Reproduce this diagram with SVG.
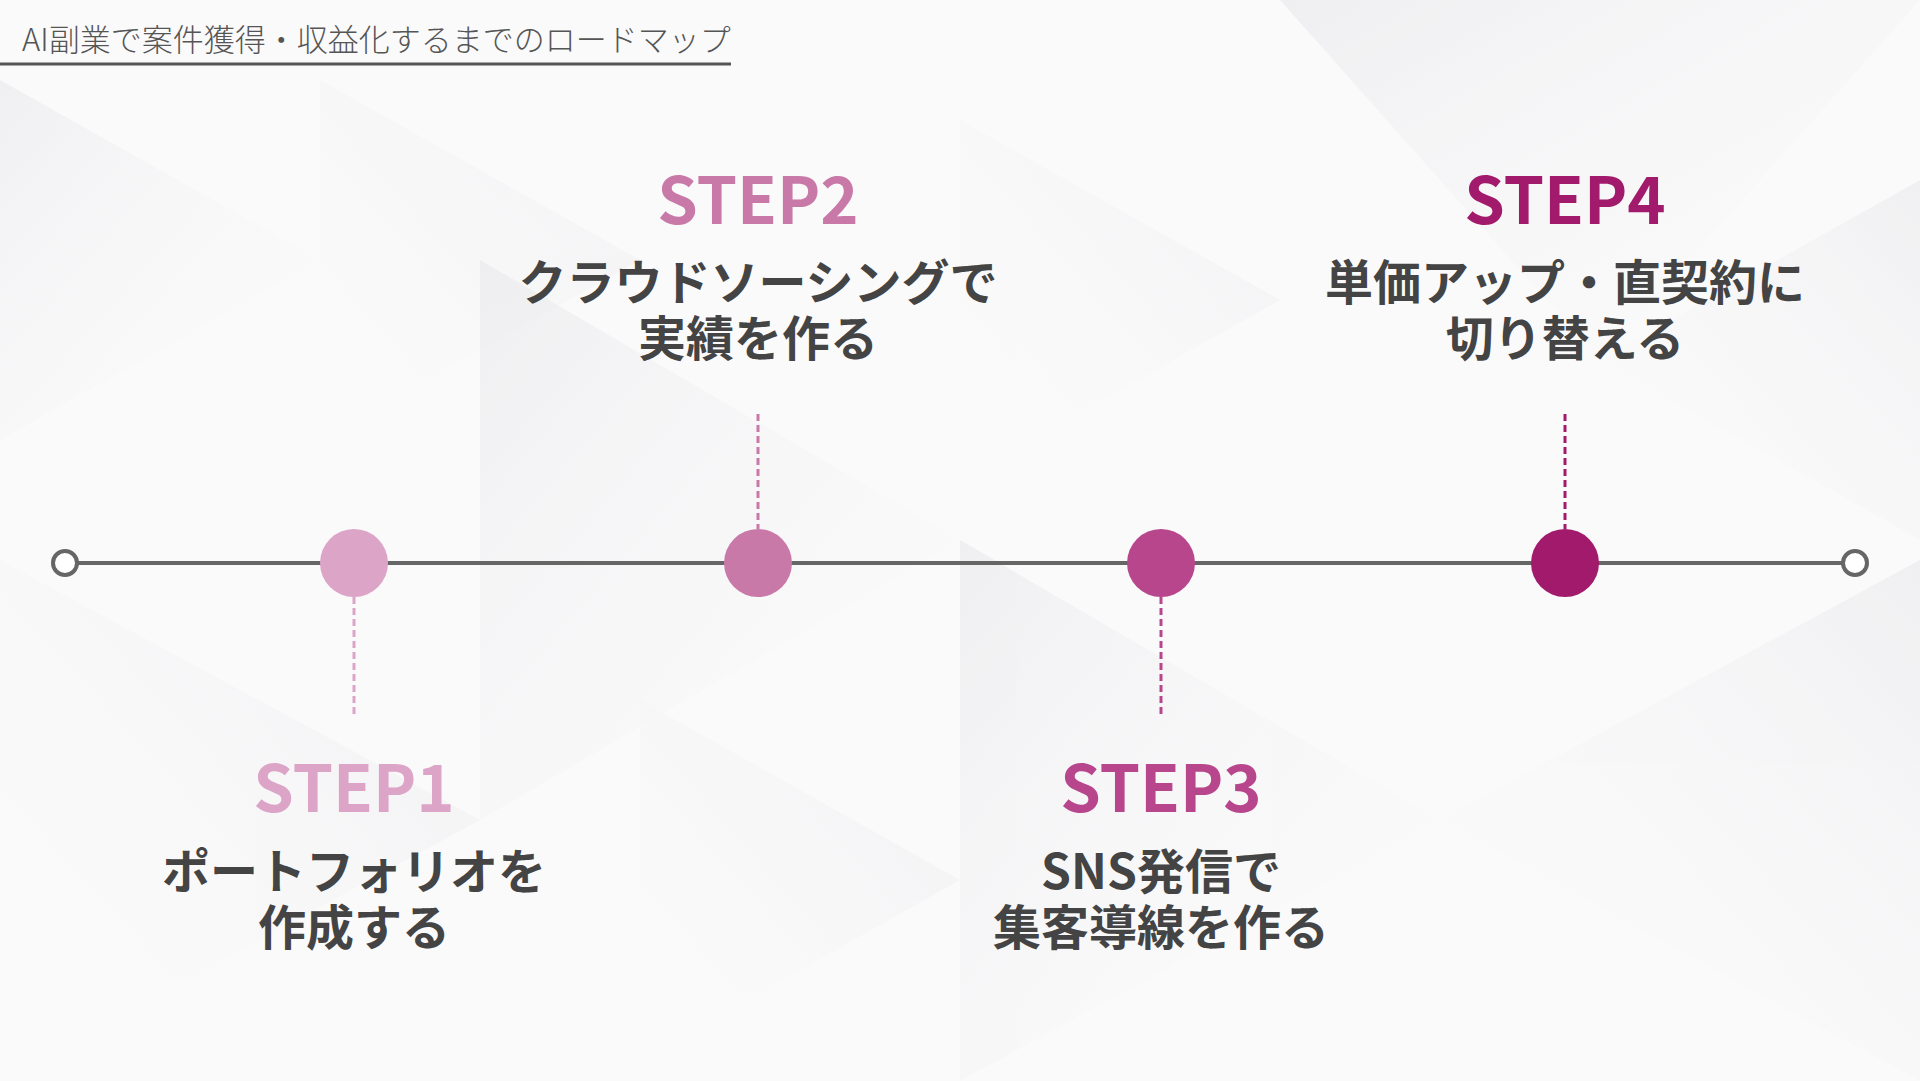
<svg xmlns="http://www.w3.org/2000/svg" width="1920" height="1081" viewBox="0 0 1920 1081">
<defs>
<style>
.title{font-family:"Noto Sans CJK JP","Noto Sans",sans-serif;font-weight:300;font-size:31px;fill:#555555}
.step{font-family:"Noto Sans CJK JP","Noto Sans",sans-serif;font-weight:700;font-size:65px;text-anchor:middle}
.desc{font-family:"Noto Sans CJK JP","Noto Sans",sans-serif;font-weight:700;font-size:48px;fill:#444444;text-anchor:middle}
.axis{stroke:#666666;stroke-width:4;fill:none}
.end{stroke:#666666;stroke-width:4;fill:#ffffff}
.dash{stroke-width:3;stroke-dasharray:7 4;fill:none}
</style>
<linearGradient id="g1" x1="0" y1="0" x2="1" y2="1">
<stop offset="0" stop-color="#dcdce0" stop-opacity="0.5"/>
<stop offset="1" stop-color="#ffffff" stop-opacity="0"/>
</linearGradient>
<linearGradient id="g2" x1="1" y1="0" x2="0" y2="1">
<stop offset="0" stop-color="#dcdce0" stop-opacity="0.45"/>
<stop offset="1" stop-color="#ffffff" stop-opacity="0"/>
</linearGradient>
</defs>
<rect x="0" y="0" width="1920" height="1081" fill="#fafafb"/>
<g id="background" opacity="0.7">
<polygon points="0,80 320,260 0,440" fill="url(#g1)"/>
<polygon points="320,80 640,260 320,440" fill="url(#g2)"/>
<polygon points="480,260 960,540 480,820" fill="url(#g1)"/>
<polygon points="960,120 1280,300 960,480" fill="url(#g2)"/>
<polygon points="1280,0 1920,0 1600,360" fill="url(#g1)"/>
<polygon points="1600,360 1920,180 1920,540" fill="url(#g2)"/>
<polygon points="0,560 480,820 0,1081" fill="url(#g2)"/>
<polygon points="960,540 1440,820 960,1081" fill="url(#g1)"/>
<polygon points="1440,820 1920,560 1920,1081" fill="url(#g2)"/>
<polygon points="640,700 960,880 640,1060" fill="url(#g2)"/>
</g>
<g id="title">
<text class="title" x="22" y="51">AI副業で案件獲得・収益化するまでのロードマップ</text>
<line x1="0" y1="64" x2="731" y2="64" stroke="#555555" stroke-width="3"/>
</g>
<g id="connectors">
<line class="axis" x1="77" y1="563" x2="1842" y2="563"/>
<line class="dash" x1="354" y1="597" x2="354" y2="714" stroke="#DCA5C8"/>
<line class="dash" x1="758" y1="414" x2="758" y2="529" stroke="#C979A8"/>
<line class="dash" x1="1161" y1="597" x2="1161" y2="714" stroke="#B8468C"/>
<line class="dash" x1="1565" y1="414" x2="1565" y2="529" stroke="#A21A6B"/>
</g>
<g id="start"><circle class="end" cx="65" cy="563" r="12"/></g>
<g id="end"><circle class="end" cx="1855" cy="563" r="12"/></g>
<g id="step1">
<circle cx="354" cy="563" r="34" fill="#DCA5C8"/>
<text class="step" x="354" y="812" fill="#DCA5C8">STEP1</text>
<text class="desc" x="354" y="889">ポートフォリオを</text>
<text class="desc" x="354" y="945">作成する</text>
</g>
<g id="step2">
<circle cx="758" cy="563" r="34" fill="#C979A8"/>
<text class="step" x="758" y="224" fill="#C979A8">STEP2</text>
<text class="desc" x="758" y="300">クラウドソーシングで</text>
<text class="desc" x="758" y="356">実績を作る</text>
</g>
<g id="step3">
<circle cx="1161" cy="563" r="34" fill="#B8468C"/>
<text class="step" x="1161" y="812" fill="#B8468C">STEP3</text>
<text class="desc" x="1161" y="889">SNS発信で</text>
<text class="desc" x="1161" y="945">集客導線を作る</text>
</g>
<g id="step4">
<circle cx="1565" cy="563" r="34" fill="#A21A6B"/>
<text class="step" x="1565" y="224" fill="#A21A6B">STEP4</text>
<text class="desc" x="1565" y="300">単価アップ・直契約に</text>
<text class="desc" x="1565" y="356">切り替える</text>
</g>
</svg>
